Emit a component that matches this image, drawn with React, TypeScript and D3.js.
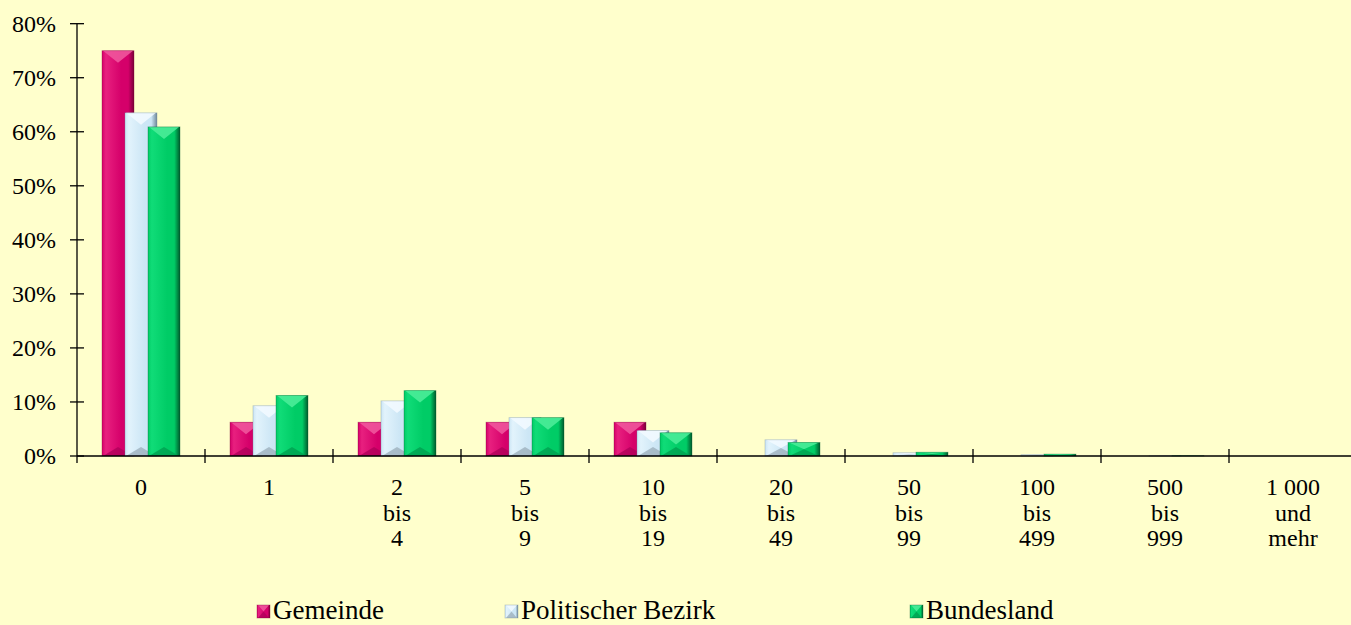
import React from "react";
import * as d3 from "d3";

const categories: string[][] = [
  ["0"],
  ["1"],
  ["2", "bis", "4"],
  ["5", "bis", "9"],
  ["10", "bis", "19"],
  ["20", "bis", "49"],
  ["50", "bis", "99"],
  ["100", "bis", "499"],
  ["500", "bis", "999"],
  ["1 000", "und", "mehr"],
];
const seriesNames = ["Gemeinde", "Politischer Bezirk", "Bundesland"];
const gemeinde = [75, 6.25, 6.25, 6.25, 6.25, 0, 0, 0, 0, 0];
const bezirk = [63.5, 9.3, 10.2, 7.1, 4.7, 3.0, 0.6, 0.25, 0.05, 0];
const bundesland = [60.9, 11.2, 12.1, 7.1, 4.3, 2.5, 0.7, 0.35, 0.05, 0.01];
const yTicks = [0, 10, 20, 30, 40, 50, 60, 70, 80];

const palettes = [
  { id: "g0", light: "#E8207F", base: "#D5006A", dark: "#7A0038", top: "#F0559C", bottom: "#B0005A" },
  { id: "g1", light: "#E2F3FC", base: "#CCE6F5", dark: "#6F8799", top: "#F2FAFF", bottom: "#9DB0BD" },
  { id: "g2", light: "#10DC78", base: "#00CC66", dark: "#005A2C", top: "#4AEC98", bottom: "#00A050" },
];

const W = 1351;
const H = 625;
const left = 77;
const right = 1357;
const y0 = 456;
const yTop = 456 - 8 * 54.04;
const FONT = "'Liberation Serif', 'Times New Roman', serif";

function Bar({ x, y, w, h, p }: { x: number; y: number; w: number; h: number; p: any }) {
  if (h <= 0.2) return null;
  const x1 = x + w;
  const yb = y + h;
  const cx = x + w / 2;
  const dt = Math.min(12, h / 2);
  const db = Math.min(9, h / 2);
  const pts = (a: number[][]) => a.map((q) => q.join(",")).join(" ");
  return (
    <g>
      <rect x={x} y={y} width={w} height={h} fill={`url(#${p.id})`} />
      <polygon points={pts([[x + 1, y], [x1 - 1, y], [cx, y + dt]])} fill={p.top} opacity={0.9} />
      <polygon points={pts([[x + 1, yb], [x1 - 1, yb], [cx, yb - db]])} fill={p.bottom} opacity={0.8} />
      <rect x={x} y={y} width={w} height={h} fill="none" stroke={p.dark} strokeOpacity={0.4} strokeWidth={0.8} />
    </g>
  );
}

export default function App() {
  const x = d3.scaleBand<number>().domain(d3.range(categories.length)).range([left, right]).padding(0);
  const y = d3.scaleLinear().domain([0, 80]).range([y0, yTop]);
  const series = [gemeinde, bezirk, bundesland];
  const barW = 32;
  const step = 23;
  const legendX = [257, 505, 910];

  return (
    <svg
      width={W}
      height={H}
      style={{ position: "absolute", left: 0, top: 0, background: "#FFFFCC", fontFamily: FONT }}
    >
      <defs>
        {palettes.map((p) => (
          <linearGradient key={p.id} id={p.id} x1="0" x2="1" y1="0" y2="0">
            <stop offset="0" stopColor={p.base} />
            <stop offset="0.12" stopColor={p.light} />
            <stop offset="0.6" stopColor={p.base} />
            <stop offset="0.82" stopColor={p.base} />
            <stop offset="1" stopColor={p.dark} />
          </linearGradient>
        ))}
      </defs>
      <rect x={0} y={0} width={W} height={H} fill="#FFFFCC" />
      {categories.map((_, ci) => {
        const c = (x(ci) as number) + x.bandwidth() / 2;
        return (
          <g key={ci}>
            {series.map((vals, si) => {
              const bx = c - 39 + si * step;
              const top = y(vals[ci]);
              return <Bar key={si} x={bx} y={top} w={barW} h={y0 - top} p={palettes[si]} />;
            })}
          </g>
        );
      })}
      <line x1={left} x2={right} y1={y0} y2={y0} stroke="#000" strokeWidth={1.3} />
      <line x1={left} x2={left} y1={yTop} y2={y0 + 7} stroke="#000" strokeWidth={1.3} />
      {yTicks.map((t) => (
        <g key={t}>
          <line x1={left - 7} x2={left + 7} y1={y(t)} y2={y(t)} stroke="#000" strokeWidth={1.3} />
          <text x={56} y={y(t)} dy="0.34em" textAnchor="end" fontSize={24} fill="#000">
            {t}%
          </text>
        </g>
      ))}
      {d3.range(1, categories.length + 1).map((i) => {
        const tx = left + i * x.bandwidth();
        return <line key={i} x1={tx} x2={tx} y1={y0 - 7} y2={y0 + 7} stroke="#000" strokeWidth={1.3} />;
      })}
      {categories.map((lines, ci) => {
        const c = (x(ci) as number) + x.bandwidth() / 2;
        return (
          <text key={ci} textAnchor="middle" fontSize={24} fill="#000">
            {lines.map((l, li) => (
              <tspan key={li} x={c} y={495 + li * 25.5}>
                {l}
              </tspan>
            ))}
          </text>
        );
      })}
      {seriesNames.map((n, si) => (
        <g key={n}>
          <Bar x={legendX[si]} y={605} w={13} h={13} p={palettes[si]} />
          <text x={legendX[si] + 16} y={619} fontSize={27} fill="#000">
            {n}
          </text>
        </g>
      ))}
    </svg>
  );
}
